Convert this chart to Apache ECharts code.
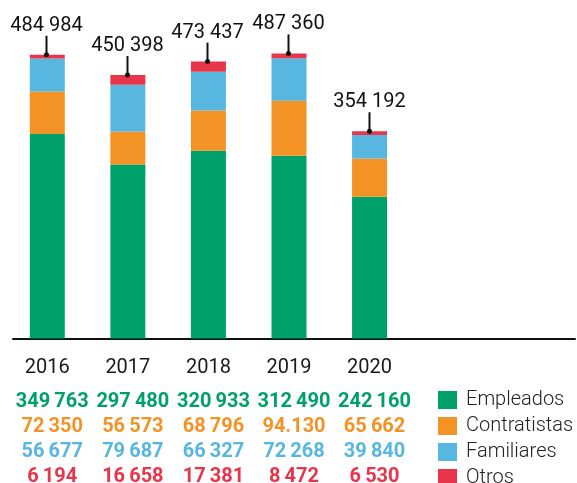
<!DOCTYPE html>
<html>
<head>
<meta charset="utf-8">
<script src="https://cdn.jsdelivr.net/npm/echarts@6/dist/echarts.min.js"></script>
<style>
  html, body { margin: 0; padding: 0; background: #ffffff; }
  #chart { width: 577px; height: 483px; }
</style>
</head>
<body>
<div id="chart"></div>
<script>
// Categories and series values (one stacked bar per year)
const years = ['2016', '2017', '2018', '2019', '2020'];
const empleados = [349763, 297480, 320933, 312490, 242160];
const contratistas = [72350, 56573, 68796, 94130, 65662];
const familiares = [56677, 79687, 66327, 72268, 39840];
const otros = [6194, 16658, 17381, 8472, 6530];
const totals = [484984, 450398, 473437, 487360, 354192];

// Printed forms that differ from the usual "123 456" grouping
const printedAs = { 94130: '94.130' };

const seriesNames = ['Empleados', 'Contratistas', 'Familiares', 'Otros'];
const colors = ['#00a06b', '#f39325', '#57b7e1', '#e8354a'];

const FONT = 'Roboto, "Noto Sans", sans-serif';
// Two empty slots to the right keep the bars at their spacing
const slots = years.concat(['', '']);

function fmt(v, sep) {
  if (v === undefined || v === null) return '';
  if (printedAs[v]) return printedAs[v];
  return String(v).replace(/\B(?=(\d{3})+(?!\d))/g, sep || ' ');
}

const rows = [empleados, contratistas, familiares, otros];
const rowOffsets = [45, 70, 95, 120];

// Value rows under the years, drawn as extra category axes
const tableAxes = rows.map((row, i) => ({
  type: 'category',
  gridIndex: 0,
  position: 'bottom',
  offset: rowOffsets[i],
  data: slots.map((s, j) => (j < row.length ? fmt(row[j], '\u2009') : '')),
  axisLine: { show: false },
  axisTick: { show: false },
  axisLabel: {
    interval: 0,
    margin: 8,
    color: colors[i],
    fontSize: 20,
    fontWeight: 'bold',
    fontFamily: FONT,
    padding: [0, 0, 0, 10]
  }
}));

const chart = echarts.init(document.getElementById('chart'), null, { renderer: 'canvas' });

chart.setOption({
  animation: false,
  backgroundColor: '#ffffff',
  color: colors,
  grid: [
    { left: 7, right: 6, top: 46, bottom: 144.5, outerBoundsMode: 'none' },
    { left: 13, right: 2, top: 46, bottom: 144.5, outerBoundsMode: 'none' }
  ],
  legend: {
    data: seriesNames,
    orient: 'vertical',
    left: 438,
    top: 390,
    height: 140,
    padding: 0,
    icon: 'rect',
    itemWidth: 19,
    itemHeight: 18,
    itemGap: 6,
    selectedMode: false,
    textStyle: {
      fontSize: 20,
      fontWeight: 300,
      fontFamily: FONT,
      color: '#222222',
      padding: [0, 0, 0, 4]
    }
  },
  xAxis: [
    {
      type: 'category',
      gridIndex: 0,
      data: slots,
      axisLine: { show: false },
      axisTick: { show: false },
      axisLabel: {
        interval: 0,
        margin: 19,
        color: '#1a1a1a',
        fontSize: 20,
        fontFamily: FONT
      }
    },
    {
      type: 'value',
      gridIndex: 1,
      min: 0,
      max: 1,
      axisLine: { show: true, onZero: false, lineStyle: { color: '#111111', width: 2 } },
      axisTick: { show: false },
      axisLabel: { show: false },
      splitLine: { show: false }
    }
  ].concat(tableAxes),
  yAxis: [
    { type: 'value', gridIndex: 0, min: 0, max: 500000, show: false },
    { type: 'value', gridIndex: 1, min: 0, max: 1, show: false }
  ],
  series: [
    { name: 'Empleados', type: 'bar', stack: 'total', barWidth: 35, data: empleados },
    { name: 'Contratistas', type: 'bar', stack: 'total', barWidth: 35, data: contratistas },
    { name: 'Familiares', type: 'bar', stack: 'total', barWidth: 35, data: familiares },
    { name: 'Otros', type: 'bar', stack: 'total', barWidth: 35, data: otros },
    {
      // Total above each bar with a pointer down to the bar top
      type: 'custom',
      z: 10,
      clip: false,
      silent: true,
      data: totals.map((t, i) => [i, t]),
      renderItem: function (params, api) {
        const p = api.coord([api.value(0), api.value(1)]);
        const x = Math.round(p[0]) - 0.5;
        const y = p[1];
        return {
          type: 'group',
          children: [
            {
              type: 'line',
              shape: { x1: x, y1: y - 19, x2: x, y2: y },
              style: { stroke: '#111111', lineWidth: 2 }
            },
            {
              type: 'circle',
              shape: { cx: x, cy: y, r: 2.5 },
              style: { fill: '#111111' }
            },
            {
              type: 'text',
              style: {
                text: fmt(api.value(1)),
                x: x,
                y: y - 29,
                align: 'center',
                verticalAlign: 'middle',
                fill: '#111111',
                fontSize: 20,
                fontFamily: FONT
              }
            }
          ]
        };
      }
    }
  ]
});
</script>
</body>
</html>
